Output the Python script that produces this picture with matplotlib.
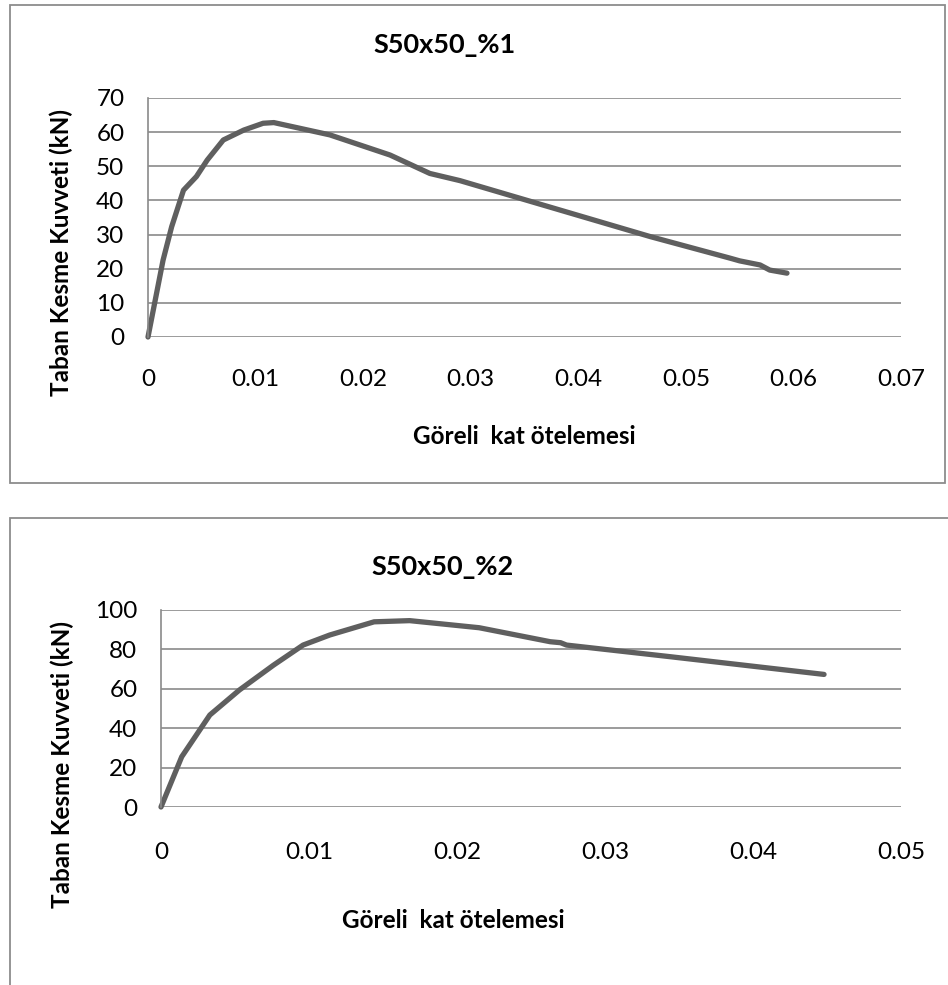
import matplotlib
matplotlib.use("Agg")
import matplotlib.pyplot as plt
from matplotlib.patches import Rectangle

# ---- data ----
drift_1 = [0, 0.0014, 0.0022, 0.0033, 0.0045, 0.0055, 0.0070, 0.0089, 0.0107, 0.0117,
           0.0169, 0.0225, 0.0262, 0.0290, 0.0467, 0.0541, 0.0550, 0.0569, 0.0578, 0.0594]
shear_1 = [0, 22.5, 32.3, 43.0, 47.0, 51.8, 57.7, 60.6, 62.6, 62.8,
           59.2, 53.3, 47.9, 45.8, 29.4, 23.1, 22.3, 21.1, 19.6, 18.7]

drift_2 = [0, 0.0014, 0.0033, 0.0053, 0.0076, 0.0096, 0.0114, 0.0144, 0.0168,
           0.0215, 0.0263, 0.0270, 0.0274, 0.0344, 0.0448]
shear_2 = [0, 25.5, 46.7, 59.4, 72.0, 82.2, 87.3, 94.0, 94.6,
           91.0, 83.9, 83.4, 82.2, 76.3, 67.3]

xticks_1 = [0, 0.01, 0.02, 0.03, 0.04, 0.05, 0.06, 0.07]
xtick_labels_1 = ["0", "0.01", "0.02", "0.03", "0.04", "0.05", "0.06", "0.07"]
yticks_1 = [0, 10, 20, 30, 40, 50, 60, 70]

xticks_2 = [0, 0.01, 0.02, 0.03, 0.04, 0.05]
xtick_labels_2 = ["0", "0.01", "0.02", "0.03", "0.04", "0.05"]
yticks_2 = [0, 20, 40, 60, 80, 100]

title_1 = "S50x50_%1"
title_2 = "S50x50_%2"
ylabel = "Taban Kesme Kuvveti (kN)"
xlabel = "Göreli  kat ötelemesi"

plt.rcParams['font.family'] = ['Lato', 'DejaVu Sans']

W, H = 948, 985
fig = plt.figure(figsize=(W / 100, H / 100), dpi=100)
fig.patch.set_facecolor("white")

def box(x0, y0, x1, y1):
    return [x0 / W, 1 - y1 / H, (x1 - x0) / W, (y1 - y0) / H]

GRID = "#8a8a8a"
LINE = "#5f5f5f"
FRAME = "#8c8c8c"

# chart frames
fig.patches.append(Rectangle((10 / W, 1 - 483 / H), (945 - 10) / W, (483 - 5) / H,
                             transform=fig.transFigure, fill=False, edgecolor=FRAME, lw=1.3))
fig.patches.append(Rectangle((10 / W, 1 - 1100 / H), (1100 - 10) / W, (1100 - 518) / H,
                             transform=fig.transFigure, fill=False, edgecolor=FRAME, lw=1.3))

def setup(ax, xticks, xlabels, yticks, xmax, ymax, xpad):
    ax.set_xlim(0, xmax)
    ax.set_ylim(0, ymax)
    ax.set_xticks(xticks)
    ax.set_xticklabels(xlabels)
    ax.set_yticks(yticks)
    ax.yaxis.grid(True, color=GRID, lw=1.2)
    ax.set_axisbelow(True)
    for s in ["top", "right", "bottom"]:
        ax.spines[s].set_visible(False)
    ax.spines["left"].set_color(GRID)
    ax.spines["left"].set_linewidth(1.2)
    ax.tick_params(axis="both", length=0, labelsize=17.5, colors="black")
    ax.tick_params(axis="y", pad=17)
    ax.tick_params(axis="x", pad=xpad)
    ax.patch.set_alpha(0)

ax1 = fig.add_axes(box(148, 98, 901, 337))
setup(ax1, xticks_1, xtick_labels_1, yticks_1, 0.07, 70, 23)
ax1.plot(drift_1, shear_1, color=LINE, lw=3.8, solid_joinstyle="round", solid_capstyle="round", clip_on=False)

ax2 = fig.add_axes(box(161, 610, 901, 807))
setup(ax2, xticks_2, xtick_labels_2, yticks_2, 0.05, 100, 25)
ax2.plot(drift_2, shear_2, color=LINE, lw=3.8, solid_joinstyle="round", solid_capstyle="round", clip_on=False)

def ft(x, y, s, **kw):
    fig.text(x / W, 1 - y / H, s, ha="center", va="center", **kw)

ft(445, 45, title_1, fontsize=19.5, fontweight="bold")
ft(443, 567, title_2, fontsize=19.5, fontweight="bold")
ft(61, 252, ylabel, fontsize=17.5, fontweight="bold", rotation=90)
ft(62, 764, ylabel, fontsize=17.5, fontweight="bold", rotation=90)
ft(524, 436, xlabel, fontsize=17.5, fontweight="bold")
ft(453, 921, xlabel, fontsize=17.5, fontweight="bold")

fig.savefig("out.png", dpi=100)
